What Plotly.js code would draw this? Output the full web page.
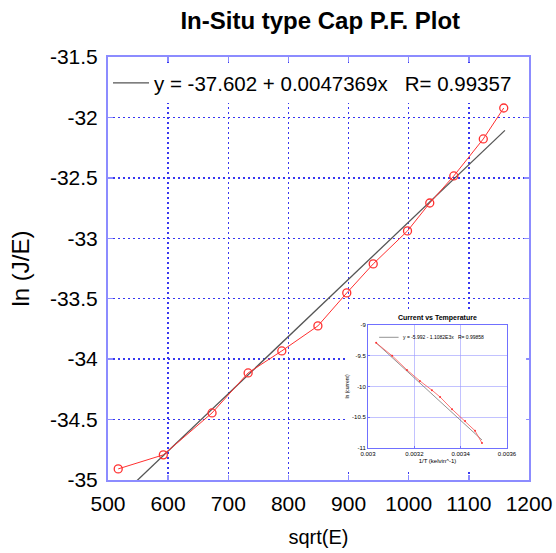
<!DOCTYPE html>
<html><head><meta charset="utf-8">
<script src="https://cdn.plot.ly/plotly-3.0.1.min.js"></script>
<style>html,body{margin:0;padding:0;background:#fff}#chart{width:556px;height:553px}</style>
</head><body><div id="chart"></div>
<script>
// Main data: sqrt(E) vs ln(J/E)
const sqrtE = [517, 592, 673, 733, 789, 849, 897, 941, 998, 1035, 1075, 1124, 1158];
const lnJE = [-34.908, -34.792, -34.445, -34.114, -33.932, -33.725, -33.452, -33.212, -32.939, -32.708, -32.484, -32.178, -31.922];
// Linear fit line
const fitX = [548, 1160];
const fitY = [-35.006, -32.107];
const fitLabel = "y = -37.602 + 0.0047369x   R= 0.99357";
// Inset data: ln(current) vs 1/T
const invT = [0.003035, 0.003104, 0.003168, 0.003224, 0.003276, 0.003311, 0.003363, 0.003419, 0.003462, 0.003492];
const lnI = [-9.29, -9.50, -9.73, -9.91, -10.06, -10.17, -10.37, -10.56, -10.72, -10.92];
const insetFitX = [0.003035, 0.003492];
const insetFitY = [-9.29, -10.87];
const insetXTicks = [0.003, 0.0032, 0.0034, 0.0036];
const insetXText = ["0.003", "0.0032", "0.0034", "0.0036"];
const insetYTicks = [-9, -9.5, -10, -10.5, -11];
const insetYText = ["-9", "-9.5", "-10", "-10.5", "-11"];
const insetLegend = "y = -5.992 - 1.1082E3x   R= 0.99858";
// white backing for the inset
const coverX = [0, 1, 1, 0, 0];
const coverY = [0, 0, 1, 1, 0];

const FONT = "Liberation Sans, Arial, sans-serif";
const axisBlue = "#8c8cff";
const gridBlue = "#3838f0";

const traces = [
  {x: fitX, y: fitY, mode: "lines", name: fitLabel, line: {color: "#555555", width: 1.3}, showlegend: true, xaxis: "x", yaxis: "y"},
  {x: sqrtE, y: lnJE, mode: "lines+markers", line: {color: "#ff3030", width: 1}, marker: {symbol: "circle-open", size: 8, color: "#ff3030", line: {width: 1.3}}, showlegend: false, xaxis: "x", yaxis: "y"},
  {x: coverX, y: coverY, mode: "lines", fill: "toself", fillcolor: "#ffffff", line: {width: 0, color: "#ffffff"}, hoverinfo: "skip", showlegend: false, xaxis: "x2", yaxis: "y2"},
  {x: insetFitX, y: insetFitY, mode: "lines", line: {color: "#777777", width: 0.8}, showlegend: false, xaxis: "x3", yaxis: "y3"},
  {x: invT, y: lnI, mode: "lines+markers", line: {color: "#ff5050", width: 0.8}, marker: {size: 2, color: "#ff3030"}, showlegend: false, xaxis: "x3", yaxis: "y3"}
];

const hidden = {showline: false, showgrid: false, zeroline: false, showticklabels: false, ticks: "", range: [0, 1], fixedrange: true};

const layout = {
  width: 556, height: 553,
  margin: {l: 108, r: 27, t: 57, b: 73},
  paper_bgcolor: "#ffffff", plot_bgcolor: "#ffffff",
  font: {family: FONT, color: "#000"},
  title: {text: "<b>In-Situ type Cap P.F. Plot</b>", font: {size: 24, family: FONT}, x: 0.576, xanchor: "center", y: 0.963, yanchor: "middle"},
  showlegend: true,
  legend: {x: 0.0, y: 0.9385, xanchor: "left", yanchor: "middle", bgcolor: "#ffffff", font: {size: 20.5, family: FONT}, itemwidth: 36, tracegroupgap: 0},
  xaxis: {
    domain: [0, 1], range: [500, 1200], tickvals: [500,600,700,800,900,1000,1100,1200],
    showline: true, linecolor: axisBlue, linewidth: 2, mirror: "allticks",
    ticks: "inside", ticklen: 5, tickcolor: axisBlue, tickwidth: 1.5,
    showgrid: true, gridcolor: gridBlue, gridwidth: 1.5, griddash: "2px,3px",
    zeroline: false, tickfont: {size: 21}, ticklabelstandoff: 4,
    title: {text: "sqrt(E)", font: {size: 20}, standoff: 16}
  },
  yaxis: {
    domain: [0, 1], range: [-35, -31.5], tickvals: [-35,-34.5,-34,-33.5,-33,-32.5,-32,-31.5],
    ticktext: ["-35","-34.5","-34","-33.5","-33","-32.5","-32","-31.5"],
    showline: true, linecolor: axisBlue, linewidth: 2, mirror: "allticks",
    ticks: "inside", ticklen: 5, tickcolor: axisBlue, tickwidth: 1.5,
    showgrid: true, gridcolor: gridBlue, gridwidth: 1.5, griddash: "2px,3px",
    zeroline: false, tickfont: {size: 21}, ticklabelstandoff: 4,
    title: {text: "ln (J/E)", font: {size: 24}, standoff: 14}
  },
  xaxis2: Object.assign({domain: [0.563, 0.993], anchor: "y2"}, hidden),
  yaxis2: Object.assign({domain: [0.0236, 0.3995], anchor: "x2"}, hidden),
  xaxis3: {
    domain: [0.6176, 0.9477], anchor: "y3", range: [0.003, 0.0036],
    tickvals: insetXTicks, ticktext: insetXText,
    showline: true, linecolor: "#7070ff", linewidth: 1, mirror: true,
    ticks: "inside", ticklen: 2, tickcolor: "#7070ff",
    showgrid: true, gridcolor: "#9a9aff", gridwidth: 0.6, dtick: 0.0001,
    zeroline: false, tickfont: {size: 6},
    title: {text: "1/T (kelvin^-1)", font: {size: 6}, standoff: 2}
  },
  yaxis3: {
    domain: [0.0757, 0.3664], anchor: "x3", range: [-11, -9],
    tickvals: insetYTicks, ticktext: insetYText,
    showline: true, linecolor: "#7070ff", linewidth: 1, mirror: true,
    ticks: "inside", ticklen: 2, tickcolor: "#7070ff",
    showgrid: true, gridcolor: "#9a9aff", gridwidth: 0.6,
    zeroline: false, tickfont: {size: 6},
    title: {text: "ln (current)", font: {size: 5}, standoff: 2}
  },
  shapes: [
    {type: "line", xref: "x3 domain", yref: "y3 domain", x0: 0.08, x1: 0.22, y0: 0.9, y1: 0.9,
     line: {color: "#777777", width: 0.8}}
  ],
  annotations: [
    {text: "<b>Current vs Temperature</b>", xref: "x3 domain", yref: "y3 domain", x: 0.5, y: 1.06,
     xanchor: "center", yanchor: "middle", showarrow: false, font: {size: 7}},
    {text: insetLegend, xref: "x3 domain", yref: "y3 domain", x: 0.24, y: 0.9,
     xanchor: "left", yanchor: "middle", showarrow: false, font: {size: 5}}
  ]
};

Plotly.newPlot("chart", traces, layout, {displayModeBar: false, staticPlot: true});
</script></body></html>
